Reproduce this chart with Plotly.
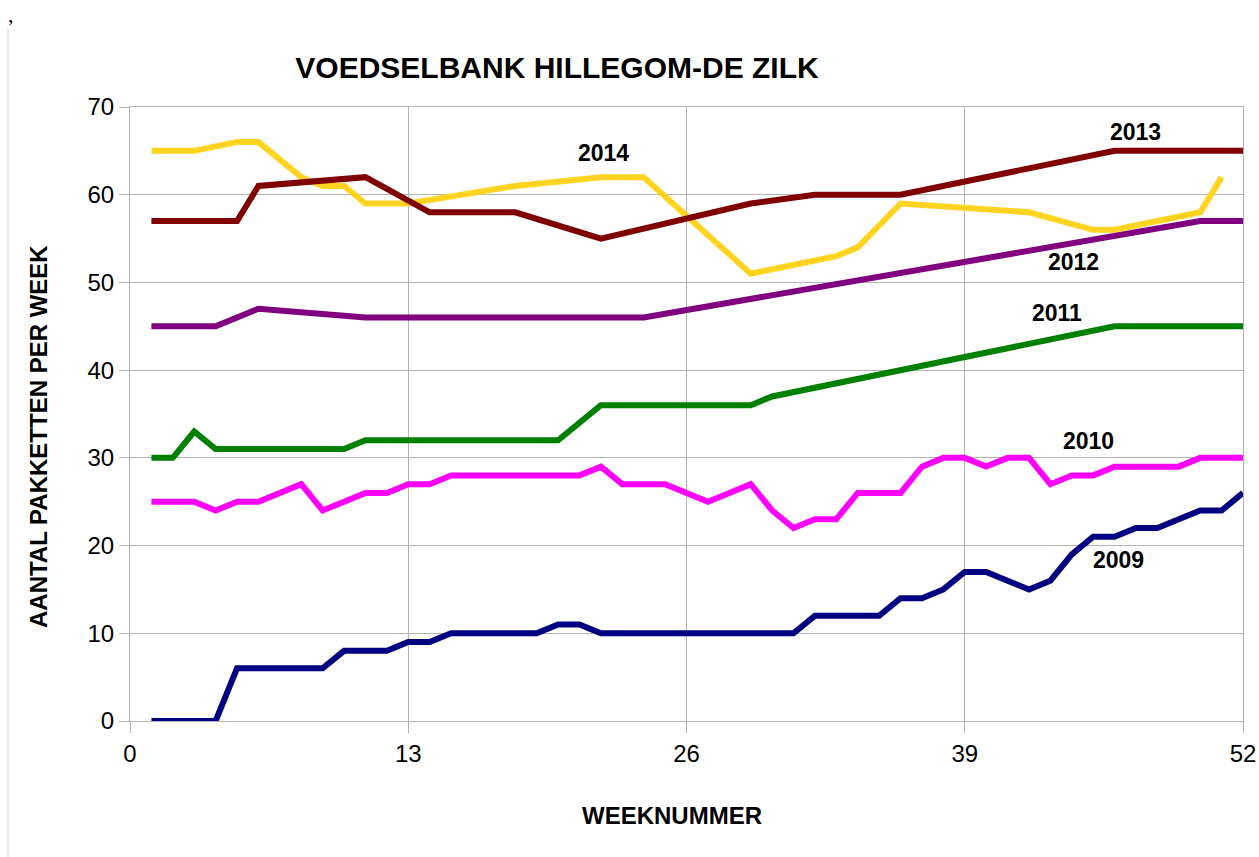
import plotly.graph_objects as go

# ---------------- data ----------------
weeks = list(range(1, 53))
N = None
years = ["2014", "2013", "2012", "2011", "2010", "2009"]

v2009 = [0, 0, 0, 0, 6, 6, 6, 6, 6, 8, 8, 8, 9, 9, 10, 10, 10, 10, 10, 11,
         11, 10, 10, 10, 10, 10, 10, 10, 10, 10, 10, 12, 12, 12, 12, 14, 14, 15, 17, 17,
         16, 15, 16, 19, 21, 21, 22, 22, 23, 24, 24, 26]
v2010 = [25, 25, 25, 24, 25, 25, 26, 27, 24, 25, 26, 26, 27, 27, 28, 28, 28, 28, 28, 28,
         28, 29, 27, 27, 27, 26, 25, 26, 27, 24, 22, 23, 23, 26, 26, 26, 29, 30, 30, 29,
         30, 30, 27, 28, 28, 29, 29, 29, 29, 30, 30, 30]
v2011 = [30, 30, 33, 31, 31, 31, 31, 31, 31, 31, 32, 32, 32, 32, 32, 32, 32, 32, 32, 32,
         N, 36, 36, 36, 36, 36, 36, 36, 36, 37, N, N, N, N, N, N, N, N, N, N,
         N, N, N, N, N, 45, 45, 45, 45, 45, 45, 45]
v2012 = [45, 45, 45, 45, N, 47, N, N, N, N, 46, 46, 46, 46, 46, 46, 46, 46, 46, 46,
         46, 46, 46, 46, N, N, N, N, N, N, N, N, N, N, N, N, N, N, N, N,
         N, N, N, N, N, N, N, N, N, 57, 57, 57]
v2013 = [57, 57, 57, 57, 57, 61, N, N, N, N, 62, N, N, 58, 58, 58, 58, 58, N, N,
         N, 55, N, N, N, N, N, N, 59, N, N, 60, 60, 60, 60, 60, N, N, N, N,
         N, N, N, N, N, 65, 65, 65, 65, 65, 65, 65]
v2014 = [65, 65, 65, N, 66, 66, N, 62, 61, 61, 59, 59, 59, N, N, N, N, 61, N, N,
         N, 62, 62, 62, N, N, N, N, 51, N, N, N, 53, 54, N, 59, N, N, N, N,
         N, 58, N, N, 56, 56, N, N, N, 58, 62, N]

series = {"2014": v2014, "2013": v2013, "2012": v2012,
          "2011": v2011, "2010": v2010, "2009": v2009}
colors = {"2014": "#FFD320", "2013": "#800000", "2012": "#800080",
          "2011": "#008000", "2010": "#FF00FF", "2009": "#000080"}

# label positions (week, value)
label_x = {"2014": 22.1, "2013": 47.0, "2012": 44.1, "2011": 43.3, "2010": 44.8, "2009": 46.2}
label_y = {"2014": 64.7, "2013": 67.1, "2012": 52.3, "2011": 46.5, "2010": 31.9, "2009": 18.3}

x_ticks = [0, 13, 26, 39, 52]
y_ticks = [0, 10, 20, 30, 40, 50, 60, 70]

FONT = "Liberation Sans, Arial, sans-serif"
GRID = "#b3b3b3"

fig = go.Figure()
for yr in years:
    fig.add_trace(go.Scatter(
        x=weeks, y=series[yr], mode="lines", connectgaps=True,
        line=dict(color=colors[yr], width=6), name=yr, showlegend=False))

for yr in years:
    fig.add_annotation(x=label_x[yr], y=label_y[yr], xref="x", yref="y",
                       xanchor="center", yanchor="middle",
                       text="<b>%s</b>" % yr, showarrow=False,
                       font=dict(family=FONT, size=23, color="#000000"))

W, H = 1259, 857
L, R, T, B = 130, 16, 107, 136
pw, ph = W - L - R, H - T - B

def px2paper_x(px):
    return (px - L) / pw

def px2paper_y(py):
    return (H - B - py) / ph

# axis titles
fig.add_annotation(x=px2paper_x(672), y=px2paper_y(815), xref="paper", yref="paper",
                   xanchor="center", yanchor="middle",
                   text="<b>WEEKNUMMER</b>", showarrow=False,
                   font=dict(family=FONT, size=24, color="#000000"))
fig.add_annotation(x=px2paper_x(38), y=px2paper_y(437), xref="paper", yref="paper",
                   xanchor="center", yanchor="middle",
                   text="<b>AANTAL PAKKETTEN PER WEEK</b>", showarrow=False, textangle=-90,
                   font=dict(family=FONT, size=24, color="#000000"))
# stray comma and border line from original page
fig.add_annotation(x=px2paper_x(11), y=px2paper_y(1), xref="paper", yref="paper",
                   xanchor="center", yanchor="top", borderpad=0,
                   text=",", showarrow=False,
                   font=dict(family="Liberation Serif, serif", size=22, color="#000000"))
fig.add_shape(type="line", xref="paper", yref="paper",
              x0=px2paper_x(8), x1=px2paper_x(8), y0=px2paper_y(28), y1=px2paper_y(857),
              line=dict(color="#d9d9d9", width=1))

fig.update_layout(
    width=W, height=H,
    margin=dict(l=L, r=R, t=T, b=B, autoexpand=False),
    paper_bgcolor="white", plot_bgcolor="white",
    title=dict(text="<b>VOEDSELBANK HILLEGOM-DE ZILK</b>", x=557 / W, xref="container",
               xanchor="center", y=1 - 67 / H, yanchor="middle",
               font=dict(family=FONT, size=30, color="#000000")),
    font=dict(family=FONT, color="#000000"),
)
fig.update_xaxes(range=[0, 52], tickvals=x_ticks, ticktext=[str(t) for t in x_ticks],
                 automargin=False,
                 showgrid=True, gridcolor=GRID, gridwidth=1, zeroline=False,
                 showline=True, linecolor=GRID, linewidth=1, mirror=True,
                 ticks="outside", ticklen=11, tickcolor=GRID,
                 tickfont=dict(family=FONT, size=24, color="#000000"))
fig.update_yaxes(range=[0, 70], tickvals=y_ticks, ticktext=[str(t) for t in y_ticks],
                 automargin=False,
                 showgrid=True, gridcolor=GRID, gridwidth=1, zeroline=False,
                 showline=True, linecolor=GRID, linewidth=1, mirror=True,
                 ticks="outside", ticklen=10, tickcolor=GRID,
                 tickfont=dict(family=FONT, size=24, color="#000000"))

fig.write_html("out.html")
